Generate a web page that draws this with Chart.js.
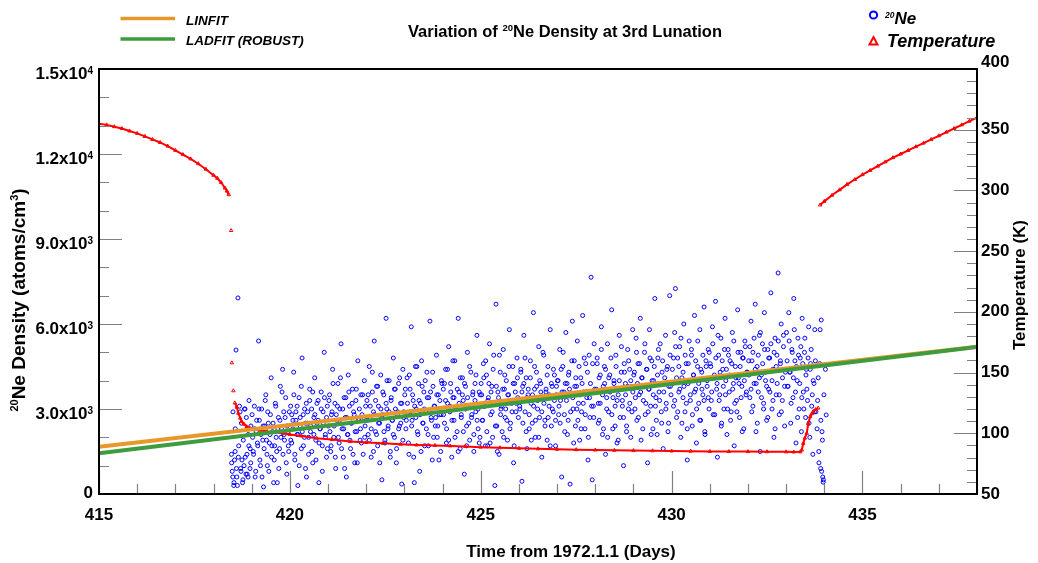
<!DOCTYPE html>
<html>
<head>
<meta charset="utf-8">
<script src="https://cdn.jsdelivr.net/npm/chart.js@4.4.1/dist/chart.umd.min.js"></script>
<style>
html,body{margin:0;padding:0;background:#fff;}
#wrap{width:1038px;height:563px;}
</style>
</head>
<body>
<div id="wrap"><canvas id="c" width="1038" height="563"></canvas></div>
<script>
// ---------------- DATA ----------------
const xTickDays = [415, 420, 425, 430, 435];
const leftTickVals = [0, 3000, 6000, 9000, 12000, 15000];
const leftTickMant = ['0', '3.0x10', '6.0x10', '9.0x10', '1.2x10', '1.5x10'];
const leftTickExp  = ['', '3', '3', '3', '4', '4'];
const rightTickVals = [50, 100, 150, 200, 250, 300, 350, 400];

const fitDays   = [415, 438];
const linfitVals = [1670, 5200];
const ladfitVals = [1440, 5190];

const tempDays = [415.0,415.2,415.4,415.6,415.8,416.0,416.2,416.4,416.6,416.8,417.0,417.2,417.4,417.6,417.8,418.0,418.1,418.2,418.3,418.35,418.4,
  418.43,418.46,418.47,418.48,418.50,418.52,418.54,
  418.56,418.61,418.65,418.70,418.74,418.80,418.87,418.95,419.05,419.22,419.40,419.60,419.82,420.0,420.3,420.7,421.1,421.58,422.0,422.44,422.9,423.32,423.8,424.2,424.6,425.0,425.5,426.0,426.5,427.0,427.5,428.0,428.5,429.0,429.5,430.0,430.5,431.0,431.5,432.0,432.5,433.0,433.2,433.37,
  433.41,433.45,433.49,433.54,433.58,433.63,433.67,433.71,433.77,433.84,
  433.86,
  433.89,434.0,434.2,434.4,434.6,434.8,435.0,435.2,435.4,435.6,435.8,436.0,436.2,436.4,436.6,436.8,437.0,437.2,437.4,437.6,437.8,438.0];
const tempVals = [355,354,352.5,351,349,347,344.5,342,339.5,336.5,333,329.5,326,322,317.5,312.5,310,306.5,302,299.5,296.5,
  null,267,null,158,null,135,null,
  125,121.5,116.5,112.5,109.5,107.5,105.5,104.3,103.5,102.5,101.5,100.8,100,99,97.8,96,94.8,93.2,92.4,91.7,91,90.4,90,89.6,89.1,88.6,88.1,87.6,87.2,86.8,86.5,86.2,86,85.8,85.6,85.4,85.3,85.1,85,84.9,84.8,84.7,84.6,84.7,
  86.2,91.7,96,100,108,113.7,116,117.8,119.5,120.8,
  null,
  288,291,296,300.5,305,309,313,316.5,320,323.5,327,330,333,336,339,342,345,348,351,354,357,360];

const ne418 = [[418.47,1400],[418.49,800],[418.51,2900],[418.53,300],[418.55,1200],[418.57,2300],[418.59,5080],[418.61,600],[418.64,6920],[418.66,1700],[418.68,3100],[418.71,900],[418.73,2500],[418.76,400],[418.78,1900],[418.81,3000],[418.83,1300],[418.86,2700],[418.88,700],[418.91,2100],[418.93,3300],[418.96,1600],[418.98,2400]];
const ne418b = [[418.475,1100],[418.505,600],[418.535,400],[418.565,1500],[418.60,900],[418.625,300],[418.65,1300],[418.695,2900],[418.72,800],[418.745,1200],[418.77,500],[418.80,1000],[418.825,3000],[418.85,700],[418.875,1400],[418.905,600],[418.925,1700],[418.955,900],[418.975,1100]];
const ne419 = [[419.01,2800],[419.04,1500],[419.07,3100],[419.09,600],[419.12,2200],[419.15,1800],[419.18,5400],[419.20,2600],[419.23,1000],[419.26,3000],[419.29,1900],[419.31,250],[419.34,2400],[419.37,3500],[419.40,1400],[419.42,2900],[419.45,800],[419.48,2100],[419.51,4100],[419.53,1700],[419.56,2500],[419.59,1200],[419.62,3200],[419.64,2000],[419.67,400],[419.70,2700],[419.73,1600],[419.75,3800],[419.78,2300],[419.81,4400],[419.84,2900],[419.86,1900],[419.89,3400],[419.92,700],[419.95,2200],[419.97,1500]];
const ne419b = [[419.025,2000],[419.05,1400],[419.08,2300],[419.105,800],[419.13,2600],[419.16,1700],[419.19,3000],[419.215,1200],[419.245,2100],[419.27,600],[419.30,2400],[419.325,1600],[419.355,3300],[419.385,1900],[419.41,1000],[419.435,2500],[419.465,1800],[419.49,2800],[419.52,1300],[419.545,2200],[419.575,400],[419.60,1700],[419.63,3100],[419.655,1500],[419.685,2300],[419.71,900],[419.74,2600],[419.765,2000],[419.795,3600],[419.82,1400],[419.85,2100],[419.875,2700],[419.905,1100],[419.93,2400],[419.96,1700],[419.985,2900]];
const ne420 = [[420.02,3100],[420.05,1800],[420.08,2600],[420.10,4300],[420.13,1200],[420.16,2900],[420.19,2100],[420.21,300],[420.24,3400],[420.27,2400],[420.30,1600],[420.32,4800],[420.35,2800],[420.38,2000],[420.41,900],[420.43,3200],[420.46,2500],[420.49,1400],[420.52,3700],[420.54,2200],[420.57,3000],[420.60,1100],[420.63,2700],[420.65,4100],[420.68,1900],[420.71,2500],[420.74,3300],[420.76,400],[420.79,2300],[420.82,3600],[420.85,1700],[420.87,2900],[420.90,5000],[420.93,2100],[420.96,1300],[420.98,3100]];
const ne420b = [[420.025,1900],[420.05,2800],[420.08,2300],[420.105,3500],[420.13,1400],[420.16,2600],[420.19,3100],[420.215,2100],[420.245,1000],[420.27,2700],[420.30,3800],[420.325,2200],[420.355,1700],[420.385,3000],[420.41,2500],[420.435,600],[420.465,2900],[420.49,2000],[420.52,3300],[420.545,2400],[420.575,1500],[420.60,3600],[420.63,2100],[420.655,2800],[420.685,1200],[420.71,3200],[420.74,2600],[420.765,1800],[420.795,2300],[420.82,3000],[420.85,800],[420.875,2500],[420.905,3400],[420.93,2000],[420.96,2700],[420.985,1600]];
const ne421 = [[421.01,2400],[421.04,3500],[421.07,1500],[421.09,2800],[421.12,4400],[421.15,2000],[421.18,3200],[421.20,900],[421.23,2600],[421.26,3900],[421.29,1800],[421.31,3000],[421.34,5300],[421.37,2300],[421.40,1300],[421.42,3400],[421.45,2700],[421.48,600],[421.51,2100],[421.53,4200],[421.56,3100],[421.59,1600],[421.62,2500],[421.64,3700],[421.67,2900],[421.70,1100],[421.73,3300],[421.75,2200],[421.78,4700],[421.81,2600],[421.84,1900],[421.86,3500],[421.89,2800],[421.92,1400],[421.95,4000],[421.97,2400]];
const ne421b = [[421.025,3300],[421.05,2200],[421.08,1700],[421.105,2900],[421.13,3900],[421.16,2400],[421.19,1300],[421.215,2800],[421.245,3100],[421.27,2000],[421.30,2600],[421.325,4100],[421.355,1600],[421.385,3000],[421.41,2300],[421.435,900],[421.465,3400],[421.49,2700],[421.52,2100],[421.545,3600],[421.575,1900],[421.60,2500],[421.63,3200],[421.655,1400],[421.685,2800],[421.71,2200],[421.74,3700],[421.765,1100],[421.795,2600],[421.82,3000],[421.85,2300],[421.875,1800],[421.905,3500],[421.93,2700],[421.96,2000],[421.985,3100]];
const ne422 = [[422.02,3300],[422.05,2100],[422.08,4500],[422.10,2700],[422.13,1300],[422.16,3600],[422.19,2900],[422.21,5400],[422.24,2200],[422.27,3800],[422.30,1700],[422.32,3100],[422.35,2500],[422.38,4200],[422.41,500],[422.43,2800],[422.46,3500],[422.49,1900],[422.52,6200],[422.54,3000],[422.57,2300],[422.60,4000],[422.63,1500],[422.65,3300],[422.68,2600],[422.71,4800],[422.74,2000],[422.76,3700],[422.79,1100],[422.82,2900],[422.85,3900],[422.87,2400],[422.90,3200],[422.93,350],[422.96,4400],[422.98,2700]];
const ne422b = [[422.025,2600],[422.05,3500],[422.08,1900],[422.105,3100],[422.13,2300],[422.16,4300],[422.19,1500],[422.215,2800],[422.245,3300],[422.27,2100],[422.30,3800],[422.325,2500],[422.355,1100],[422.385,3000],[422.41,2700],[422.435,3600],[422.465,2200],[422.49,1800],[422.52,3200],[422.545,4000],[422.575,2400],[422.60,2900],[422.63,1300],[422.655,3400],[422.685,2600],[422.71,2100],[422.74,3700],[422.765,3000],[422.795,1600],[422.82,2800],[422.85,2300],[422.875,4100],[422.905,2500],[422.93,3200],[422.96,1900],[422.985,2900]];
const ne423 = [[423.01,3500],[423.04,2300],[423.07,4100],[423.09,2800],[423.12,1400],[423.15,3700],[423.18,5900],[423.20,2600],[423.23,3300],[423.26,400],[423.29,4500],[423.31,3000],[423.34,2200],[423.37,3900],[423.40,800],[423.42,3200],[423.45,4700],[423.48,2500],[423.51,3600],[423.53,1700],[423.56,2900],[423.59,4300],[423.62,2100],[423.64,3400],[423.67,6100],[423.70,2700],[423.73,1200],[423.75,3800],[423.78,3100],[423.81,2400],[423.84,4900],[423.86,2000],[423.89,3500],[423.92,2800],[423.95,1500],[423.97,4000]];
const ne423b = [[423.025,3700],[423.05,2600],[423.08,3200],[423.105,1800],[423.13,4200],[423.16,2900],[423.19,2400],[423.215,3500],[423.245,1300],[423.27,3100],[423.30,2700],[423.325,4500],[423.355,2100],[423.385,3300],[423.41,2800],[423.435,1500],[423.465,3800],[423.49,2500],[423.52,3000],[423.545,4000],[423.575,2300],[423.60,3400],[423.63,1700],[423.655,2900],[423.685,3600],[423.71,2600],[423.74,4300],[423.765,2000],[423.795,3100],[423.82,2700],[423.85,3500],[423.875,2400],[423.905,1200],[423.93,3300],[423.96,2800],[423.985,3900]];
const ne424 = [[424.02,3700],[424.05,2500],[424.08,4400],[424.10,1800],[424.13,3200],[424.16,5200],[424.19,2900],[424.21,3900],[424.24,1300],[424.27,3400],[424.30,2600],[424.32,4700],[424.35,3000],[424.38,2200],[424.41,6200],[424.43,3600],[424.46,1600],[424.49,2800],[424.52,4100],[424.54,3300],[424.57,700],[424.60,3800],[424.63,2400],[424.65,5000],[424.68,3100],[424.71,1900],[424.74,4300],[424.76,2700],[424.79,3500],[424.82,1500],[424.85,3900],[424.87,2900],[424.90,5600],[424.93,2300],[424.96,3600],[424.98,2000]];
const ne424b = [[424.025,2800],[424.05,3900],[424.08,3300],[424.105,2300],[424.13,4400],[424.16,1900],[424.19,3100],[424.215,3600],[424.245,2600],[424.27,4700],[424.30,3400],[424.325,2000],[424.355,3000],[424.385,3700],[424.41,1500],[424.435,3200],[424.465,4100],[424.49,2700],[424.52,3500],[424.545,2200],[424.575,3900],[424.60,3000],[424.63,1700],[424.655,3400],[424.685,2500],[424.71,4500],[424.74,3100],[424.765,2800],[424.795,3600],[424.82,2100],[424.85,3300],[424.875,4200],[424.905,2600],[424.93,3000],[424.96,1800],[424.985,3500]];
const ne425 = [[425.01,3900],[425.04,2600],[425.07,4600],[425.09,3100],[425.12,1700],[425.15,4200],[425.18,1700],[425.20,3400],[425.23,5300],[425.26,2800],[425.29,3800],[425.31,2000],[425.34,4900],[425.37,300],[425.40,6700],[425.42,2400],[425.45,3600],[425.48,1400],[425.51,4300],[425.53,3000],[425.56,2200],[425.59,5100],[425.62,3700],[425.64,2700],[425.67,4000],[425.70,1900],[425.73,3500],[425.75,5800],[425.78,2500],[425.81,3200],[425.84,4500],[425.86,1100],[425.89,3900],[425.92,2900],[425.95,4800],[425.97,3400]];
const ne425b = [[425.025,3500],[425.05,2600],[425.08,4100],[425.105,3100],[425.13,4700],[425.16,2200],[425.19,3300],[425.215,3900],[425.245,1800],[425.27,3600],[425.30,2900],[425.325,4400],[425.355,3200],[425.385,2400],[425.41,3800],[425.435,1500],[425.465,3400],[425.49,4900],[425.52,2800],[425.545,3100],[425.575,3700],[425.60,2000],[425.63,4200],[425.655,3000],[425.685,2600],[425.71,3500],[425.74,4500],[425.765,2300],[425.795,3300],[425.82,2900],[425.85,3900],[425.875,1700],[425.905,3600],[425.93,3200],[425.96,4100],[425.985,2700]];
const ne426 = [[426.02,3100],[426.05,4400],[426.08,450],[426.10,3800],[426.13,5600],[426.16,2900],[426.19,4100],[426.21,1600],[426.24,3500],[426.27,2300],[426.30,4700],[426.32,3200],[426.35,2500],[426.38,6400],[426.41,3700],[426.43,2000],[426.46,4300],[426.49,3000],[426.52,5200],[426.54,2700],[426.57,3900],[426.60,1300],[426.63,3400],[426.65,4900],[426.68,2600],[426.71,3600],[426.74,1900],[426.76,4500],[426.79,3100],[426.82,5800],[426.85,2400],[426.87,3800],[426.90,2900],[426.93,4200],[426.96,1700],[426.98,3500]];
const ne426b = [[426.025,3000],[426.05,4300],[426.08,3600],[426.105,2500],[426.13,3900],[426.16,4800],[426.19,2200],[426.215,3400],[426.245,3700],[426.27,2800],[426.30,4100],[426.325,1900],[426.355,3500],[426.385,3100],[426.41,4500],[426.435,2600],[426.465,3800],[426.49,3300],[426.52,2000],[426.545,4000],[426.575,3600],[426.60,2900],[426.63,5000],[426.655,3200],[426.685,2400],[426.71,3700],[426.74,4200],[426.765,2700],[426.795,3500],[426.82,1700],[426.85,3900],[426.875,3000],[426.905,4400],[426.93,3300],[426.96,2600],[426.985,3800]];
const ne427 = [[427.01,4000],[427.04,2800],[427.07,5100],[427.09,3300],[427.12,600],[427.15,4500],[427.18,3600],[427.20,2200],[427.23,5700],[427.26,3900],[427.29,2600],[427.31,4300],[427.34,350],[427.37,3500],[427.40,6100],[427.42,3000],[427.45,4700],[427.48,2400],[427.51,3800],[427.53,5400],[427.56,3200],[427.59,1900],[427.62,4100],[427.64,2900],[427.67,6300],[427.70,3600],[427.73,2300],[427.75,4600],[427.78,3400],[427.81,1200],[427.84,4900],[427.86,2700],[427.89,7650],[427.92,500],[427.95,3100],[427.97,5300]];
const ne427b = [[427.025,4000],[427.05,3100],[427.08,2500],[427.105,4400],[427.13,3600],[427.16,5000],[427.19,2800],[427.215,3900],[427.245,3300],[427.27,2100],[427.30,4200],[427.325,3700],[427.355,2900],[427.385,4700],[427.41,3400],[427.435,1800],[427.465,3800],[427.49,4100],[427.52,3000],[427.545,2600],[427.575,4500],[427.60,3500],[427.63,2300],[427.655,3900],[427.685,3200],[427.71,4800],[427.74,2800],[427.765,3600],[427.795,4300],[427.82,2000],[427.85,3400],[427.875,3900],[427.905,3100],[427.93,4600],[427.96,2700],[427.985,3700]];
const ne428 = [[428.02,3600],[428.05,4800],[428.08,2500],[428.10,4100],[428.13,3200],[428.16,5900],[428.19,2100],[428.21,3800],[428.24,4500],[428.27,1400],[428.30,3400],[428.32,5300],[428.35,2900],[428.38,4200],[428.41,3700],[428.43,6500],[428.46,2300],[428.49,4000],[428.52,3100],[428.54,4900],[428.57,1800],[428.60,3500],[428.63,5600],[428.65,2700],[428.68,4300],[428.71,3300],[428.74,1000],[428.76,4600],[428.79,3900],[428.82,2400],[428.85,5100],[428.87,3000],[428.90,4400],[428.93,2000],[428.96,3800],[428.98,5800]];
const ne428b = [[428.025,3700],[428.05,4600],[428.08,3200],[428.105,2600],[428.13,4200],[428.16,5100],[428.19,3500],[428.215,2300],[428.245,3900],[428.27,4400],[428.30,3000],[428.325,2000],[428.355,4100],[428.385,3600],[428.41,4800],[428.435,2800],[428.465,3400],[428.49,3900],[428.52,2400],[428.545,4500],[428.575,3300],[428.60,1900],[428.63,4000],[428.655,3700],[428.685,5200],[428.71,3100],[428.74,2700],[428.765,4300],[428.795,3500],[428.82,2200],[428.85,3800],[428.875,4700],[428.905,3200],[428.93,4000],[428.96,2900],[428.985,3600]];
const ne429 = [[429.01,4200],[429.04,3000],[429.07,5500],[429.09,2600],[429.12,4600],[429.15,3500],[429.18,6200],[429.20,1900],[429.23,4100],[429.26,3300],[429.29,5000],[429.31,2800],[429.34,4400],[429.37,1100],[429.40,3700],[429.42,5800],[429.45,3100],[429.48,4700],[429.51,2300],[429.53,4000],[429.56,6900],[429.59,3400],[429.62,2100],[429.64,4800],[429.67,3600],[429.70,5300],[429.73,2900],[429.75,4300],[429.78,1600],[429.81,3900],[429.84,5600],[429.86,3200],[429.89,4500],[429.92,2500],[429.95,7000],[429.97,3800]];
const ne429b = [[429.025,4300],[429.05,3400],[429.08,5000],[429.105,3900],[429.13,2700],[429.16,4600],[429.19,3600],[429.215,4100],[429.245,2300],[429.27,3800],[429.30,5300],[429.325,3200],[429.355,4400],[429.385,2900],[429.41,3700],[429.435,4800],[429.465,2100],[429.49,4000],[429.52,3500],[429.545,4500],[429.575,3100],[429.60,2600],[429.63,4200],[429.655,5100],[429.685,3300],[429.71,3900],[429.74,2500],[429.765,4700],[429.795,3600],[429.82,4100],[429.85,3000],[429.875,4400],[429.905,2200],[429.93,3800],[429.96,4900],[429.985,3500]];
const ne430 = [[430.02,4400],[430.05,3100],[430.08,5700],[430.10,7250],[430.13,2700],[430.16,4800],[430.19,3600],[430.21,5200],[430.24,2000],[430.27,4100],[430.30,3400],[430.32,6000],[430.35,2900],[430.38,4600],[430.41,1200],[430.43,3900],[430.46,5400],[430.49,3300],[430.52,4900],[430.54,2400],[430.57,4200],[430.60,6300],[430.63,3700],[430.65,1800],[430.68,4500],[430.71,3200],[430.74,5800],[430.76,2600],[430.79,4300],[430.82,3500],[430.85,6600],[430.87,2200],[430.90,4700],[430.93,3800],[430.96,5100],[430.98,3000]];
const ne430b = [[430.025,3900],[430.05,4800],[430.08,3300],[430.105,5200],[430.13,4100],[430.16,2900],[430.19,4500],[430.215,3700],[430.245,5500],[430.27,2500],[430.30,4300],[430.325,3800],[430.355,4900],[430.385,3200],[430.41,2300],[430.435,4600],[430.465,4000],[430.49,3500],[430.52,5100],[430.545,2800],[430.575,4200],[430.60,3600],[430.63,4700],[430.655,3000],[430.685,5400],[430.71,3900],[430.74,2600],[430.765,4400],[430.795,3700],[430.82,4900],[430.85,3300],[430.875,2100],[430.905,4500],[430.93,4000],[430.96,3400],[430.985,5000]];
const ne431 = [[431.01,4600],[431.04,3300],[431.07,5900],[431.09,2800],[431.12,4200],[431.15,6800],[431.18,3700],[431.20,1300],[431.23,4900],[431.26,3500],[431.29,5500],[431.31,2500],[431.34,4400],[431.37,3000],[431.40,6200],[431.42,4000],[431.45,2100],[431.48,5100],[431.51,3600],[431.53,4700],[431.56,2900],[431.59,5700],[431.62,3900],[431.64,1700],[431.67,4500],[431.70,3300],[431.73,6500],[431.75,4100],[431.78,2700],[431.81,5000],[431.84,3800],[431.86,4800],[431.89,2300],[431.92,5400],[431.95,3500],[431.97,4300]];
const ne431b = [[431.025,4500],[431.05,3600],[431.08,5300],[431.105,4100],[431.13,2800],[431.16,4800],[431.19,3900],[431.215,5600],[431.245,3300],[431.27,4300],[431.30,2400],[431.325,4700],[431.355,3800],[431.385,5100],[431.41,3500],[431.435,4400],[431.465,3000],[431.49,4900],[431.52,4200],[431.545,2600],[431.575,4600],[431.60,3700],[431.63,5400],[431.655,3200],[431.685,4100],[431.71,2900],[431.74,5000],[431.765,3900],[431.795,4500],[431.82,3400],[431.85,2200],[431.875,4800],[431.905,4000],[431.93,5200],[431.96,3600],[431.985,4300]];
const ne432 = [[432.02,4700],[432.05,3400],[432.08,6100],[432.10,2900],[432.13,5000],[432.16,3900],[432.19,6700],[432.21,2200],[432.24,4500],[432.27,3600],[432.30,5600],[432.32,1500],[432.35,4200],[432.38,5300],[432.41,3200],[432.43,6400],[432.46,4000],[432.49,2600],[432.52,5100],[432.54,3700],[432.57,4800],[432.60,7100],[432.63,3000],[432.65,4400],[432.68,2000],[432.71,5500],[432.74,3500],[432.76,4900],[432.79,7800],[432.82,2800],[432.85,4600],[432.87,6000],[432.90,3300],[432.93,5200],[432.96,2400],[432.98,4300]];
const ne432b = [[432.025,4200],[432.05,5200],[432.08,3700],[432.105,4700],[432.13,3100],[432.16,5500],[432.19,4400],[432.215,3900],[432.245,2500],[432.27,4900],[432.30,4100],[432.325,5700],[432.355,3400],[432.385,4600],[432.41,3000],[432.435,5100],[432.465,4300],[432.49,3800],[432.52,2700],[432.545,4800],[432.575,3600],[432.60,5300],[432.63,4000],[432.655,3300],[432.685,5000],[432.71,2300],[432.74,4500],[432.765,3900],[432.795,5400],[432.82,3500],[432.85,4700],[432.875,2900],[432.905,4100],[432.93,5600],[432.96,3800],[432.985,4400]];
const ne433 = [[433.01,5700],[433.04,3800],[433.07,6400],[433.09,4300],[433.12,2500],[433.15,5100],[433.18,3400],[433.20,6900],[433.23,4700],[433.26,1800],[433.29,4000],[433.31,5500],[433.34,3000],[433.37,4800],[433.40,2200],[433.42,6200],[433.45,3600],[433.48,5000],[433.51,2700],[433.53,4400],[433.56,3300],[433.59,5900],[433.62,2000],[433.64,4600],[433.67,3100],[433.70,1400],[433.73,3900],[433.75,5800],[433.78,2900],[433.81,2300],[433.84,4100],[433.86,1100],[433.89,5800],[433.91,2600],[433.92,6140],[433.93,800],[433.95,1900],[433.96,600],[433.97,420],[433.99,3500]];
const ne433b = [[433.025,4700],[433.05,3800],[433.08,5400],[433.105,4300],[433.13,3200],[433.16,5000],[433.19,4100],[433.215,5800],[433.245,3600],[433.27,4500],[433.30,2700],[433.325,4900],[433.355,3900],[433.385,5200],[433.41,3400],[433.435,4600],[433.465,3000],[433.49,5500],[433.52,4200],[433.545,3700],[433.575,4800],[433.60,2500],[433.63,4400],[433.655,5100],[433.685,3500],[433.71,4000],[433.74,2900],[433.765,4700],[433.825,3300],[433.855,1500],[433.88,4600],[433.905,900],[433.94,2200],[433.975,500]];
const ne434 = [[434.03,4400],[434.05,2790]];

// ---------------- STYLE ----------------
const FAM = '"Liberation Sans", Arial, Helvetica, sans-serif';
const ORANGE = '#E8982A', GREEN = '#3E9C3E', BLUE = '#0000FF', RED = '#FF0000', TICKC = '#808080';
function fnt(size, italic) { return (italic ? 'italic ' : '') + 'bold ' + size + 'px ' + FAM; }
function richWidth(ctx, segs, italic) {
  let w = 0;
  segs.forEach(g => { ctx.font = fnt(g.s, italic); w += ctx.measureText(g.t).width; });
  return w;
}
function drawRich(ctx, segs, x, y, align, italic) {
  const w = richWidth(ctx, segs, italic);
  let cx = align === 'center' ? x - w / 2 : (align === 'right' ? x - w : x);
  ctx.textAlign = 'left'; ctx.textBaseline = 'alphabetic';
  segs.forEach(g => {
    ctx.font = fnt(g.s, italic);
    ctx.fillText(g.t, cx, y - (g.r || 0));
    cx += ctx.measureText(g.t).width;
  });
}

const overlay = {
  id: 'overlay',
  afterDatasetsDraw(chart) {
    const ctx = chart.ctx, a = chart.chartArea;
    const xs = chart.scales.x, ys = chart.scales.y, y2 = chart.scales.y2;
    ctx.save();
    // ticks (inward)
    ctx.strokeStyle = TICKC; ctx.lineWidth = 1.2;
    ctx.beginPath();
    for (let d = xs.min; d <= xs.max; d++) {
      const px = Math.round(xs.getPixelForValue(d)) + 0.5;
      const len = (d % 5 === 0) ? 23 : 10;
      ctx.moveTo(px, a.bottom); ctx.lineTo(px, a.bottom - len);
    }
    for (let v = ys.min; v <= ys.max; v += 1000) {
      const py = Math.round(ys.getPixelForValue(v)) + 0.5;
      const len = (v % 3000 === 0) ? 23 : 10;
      ctx.moveTo(a.left, py); ctx.lineTo(a.left + len, py);
    }
    for (let v = y2.min; v <= y2.max; v += 10) {
      const py = Math.round(y2.getPixelForValue(v)) + 0.5;
      const len = (v % 50 === 0) ? 23 : 10;
      ctx.moveTo(a.right, py); ctx.lineTo(a.right - len, py);
    }
    ctx.stroke();
    // frame
    ctx.strokeStyle = '#000'; ctx.lineWidth = 2;
    ctx.strokeRect(a.left, a.top, a.right - a.left, a.bottom - a.top);

    ctx.fillStyle = '#000';
    // x tick labels
    xTickDays.forEach(d => {
      drawRich(ctx, [{t: String(d), s: 17}], xs.getPixelForValue(d), a.bottom + 25.5, 'center');
    });
    // left tick labels
    leftTickVals.forEach((v, i) => {
      const py = ys.getPixelForValue(v);
      const segs = [{t: leftTickMant[i], s: 17}];
      if (leftTickExp[i]) segs.push({t: leftTickExp[i], s: 10, r: 5});
      drawRich(ctx, segs, a.left - 6, leftTickExp[i] ? py + 10 : py + 3.5, 'right');
    });
    // right tick labels
    rightTickVals.forEach(v => {
      const py = y2.getPixelForValue(v);
      drawRich(ctx, [{t: String(v), s: 17}], a.right + 4, v === y2.max ? py - 2 : py + 4.5, 'left');
    });
    // axis titles
    drawRich(ctx, [{t: 'Time from 1972.1.1 (Days)', s: 17}], 571, 557, 'center');
    ctx.save(); ctx.translate(25, 300); ctx.rotate(-Math.PI / 2);
    drawRich(ctx, [{t: '20', s: 11, r: 7}, {t: 'Ne Density (atoms/cm', s: 19}, {t: '3', s: 11, r: 7}, {t: ')', s: 19}], 0, 0, 'center');
    ctx.restore();
    ctx.save(); ctx.translate(1025, 285); ctx.rotate(-Math.PI / 2);
    drawRich(ctx, [{t: 'Temperature (K)', s: 17}], 0, 0, 'center');
    ctx.restore();
    // title
    drawRich(ctx, [{t: 'Variation of ', s: 16.5}, {t: '20', s: 9.5, r: 6}, {t: 'Ne Density at 3rd Lunation', s: 16.5}], 565, 37, 'center');
    // legend left
    ctx.lineWidth = 3.5;
    ctx.strokeStyle = ORANGE; ctx.beginPath(); ctx.moveTo(120.5, 18.5); ctx.lineTo(175, 18.5); ctx.stroke();
    ctx.strokeStyle = GREEN; ctx.beginPath(); ctx.moveTo(120.5, 39); ctx.lineTo(175, 39); ctx.stroke();
    drawRich(ctx, [{t: 'LINFIT', s: 13.5}], 186, 24.5, 'left', true);
    drawRich(ctx, [{t: 'LADFIT (ROBUST)', s: 13.5}], 186, 45, 'left', true);
    // legend right
    ctx.lineWidth = 2;
    ctx.strokeStyle = BLUE; ctx.beginPath(); ctx.arc(873.5, 15, 3.6, 0, Math.PI * 2); ctx.stroke();
    ctx.strokeStyle = RED; ctx.beginPath(); ctx.moveTo(869.5, 44.5); ctx.lineTo(877.5, 44.5); ctx.lineTo(873.5, 37); ctx.closePath(); ctx.stroke();
    drawRich(ctx, [{t: '20', s: 8.5, r: 6}, {t: 'Ne', s: 17}], 885, 23.5, 'left', true);
    drawRich(ctx, [{t: 'Temperature', s: 18}], 887, 46.5, 'left', true);
    ctx.restore();
  }
};

const neon = [].concat(ne418, ne418b, ne419, ne419b, ne420, ne420b, ne421, ne421b, ne422, ne422b, ne423, ne423b,
  ne424, ne424b, ne425, ne425b, ne426, ne426b, ne427, ne427b, ne428, ne428b, ne429, ne429b, ne430, ne430b,
  ne431, ne431b, ne432, ne432b, ne433, ne433b, ne434)
  .map(p => ({x: p[0], y: p[1]}));
const temp = tempDays.map((d, i) => ({x: d, y: tempVals[i]}));
const linfit = fitDays.map((d, i) => ({x: d, y: linfitVals[i]}));
const ladfit = fitDays.map((d, i) => ({x: d, y: ladfitVals[i]}));

new Chart(document.getElementById('c'), {
  type: 'scatter',
  data: {
    datasets: [
      {label: 'LADFIT (ROBUST)', data: ladfit, yAxisID: 'y', showLine: true, borderColor: GREEN, borderWidth: 4, pointRadius: 0, order: 0},
      {label: 'LINFIT', data: linfit, yAxisID: 'y', showLine: true, borderColor: ORANGE, borderWidth: 4, pointRadius: 0, order: 1},
      {label: 'Temperature', data: temp, yAxisID: 'y2', showLine: true, borderColor: RED, borderWidth: 2, spanGaps: false,
        pointStyle: 'triangle', pointRadius: 2, pointBorderColor: RED, pointBackgroundColor: 'rgba(255,0,0,0)', pointBorderWidth: 1, order: 2},
      {label: '20Ne', data: neon, yAxisID: 'y', pointStyle: 'circle', pointRadius: 2, pointBorderColor: BLUE,
        pointBackgroundColor: 'rgba(0,0,0,0)', pointBorderWidth: 1, order: 3}
    ]
  },
  options: {
    responsive: false, animation: false, devicePixelRatio: 1,
    layout: {padding: {top: 69, left: 0, right: 0, bottom: 0}},
    plugins: {legend: {display: false}, tooltip: {enabled: false}, title: {display: false}},
    scales: {
      x: {type: 'linear', position: 'bottom', min: 415, max: 438,
        ticks: {display: false}, grid: {display: false, drawTicks: false}, border: {display: false},
        afterFit(s) { s.height = 69; }},
      y: {type: 'linear', position: 'left', min: 0, max: 15000,
        ticks: {display: false}, grid: {display: false, drawTicks: false}, border: {display: false},
        afterFit(s) { s.width = 99; }},
      y2: {type: 'linear', position: 'right', min: 50, max: 400,
        ticks: {display: false}, grid: {display: false, drawTicks: false}, border: {display: false},
        afterFit(s) { s.width = 61; }}
    }
  },
  plugins: [overlay]
});
</script>
</body>
</html>
